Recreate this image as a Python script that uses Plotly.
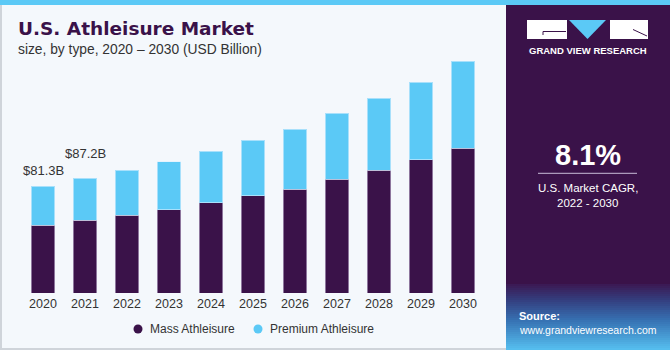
import plotly.graph_objects as go

# ---- data ----
years = ["2020", "2021", "2022", "2023", "2024", "2025", "2026", "2027", "2028", "2029", "2030"]
mass = [51.4, 55.3, 59.0, 63.3, 68.6, 73.9, 79.0, 86.4, 93.2, 101.1, 110.2]
premium = [29.9, 31.9, 34.2, 36.5, 39.3, 42.1, 45.6, 50.1, 55.0, 59.2, 65.9]
series_names = ["Mass Athleisure", "Premium Athleisure"]
total_labels = {"2020": "$81.3B", "2021": "$87.2B"}

W, H = 670, 350
DARK = "#3a1249"
LIGHT = "#5bc9f6"
BG = "#f4f8fc"
TXT = "#333333"


def px(x):
    return x / W


def py(y):
    return 1 - y / H


fig = go.Figure()
fig.add_trace(go.Bar(x=years, y=mass, name=series_names[0], marker=dict(color=DARK, line=dict(color="rgba(210,200,225,0.55)", width=1)), showlegend=False))
fig.add_trace(go.Bar(x=years, y=premium, name=series_names[1], marker=dict(color=LIGHT, line=dict(color="rgba(220,240,255,0.6)", width=1)), showlegend=False))

totals = [m + p for m, p in zip(mass, premium)]
annotations = []
shifts = {"2020": 6, "2021": 15}
for yr, lab in total_labels.items():
    i = years.index(yr)
    annotations.append(dict(x=i, y=totals[i], xref="x", yref="y", text=lab, showarrow=False,
                            yanchor="bottom", yshift=shifts[yr], font=dict(size=13, color=TXT, family="Liberation Sans")))

shapes = []
# border / top strip
shapes.append(dict(type="rect", xref="paper", yref="paper", x0=px(0), x1=px(2), y0=py(350), y1=py(0), fillcolor="#cfd4da", line_width=0, layer="below"))
shapes.append(dict(type="rect", xref="paper", yref="paper", x0=px(0), x1=px(506), y0=py(350), y1=py(348), fillcolor="#cfd4da", line_width=0, layer="below"))
shapes.append(dict(type="rect", xref="paper", yref="paper", x0=px(0), x1=px(670), y0=py(5), y1=py(0), fillcolor=LIGHT, line_width=0))
# right panel
shapes.append(dict(type="rect", xref="paper", yref="paper", x0=px(506), x1=px(670), y0=py(284), y1=py(5), fillcolor=DARK, line_width=0))
# gradient bottom part
stops = [(284, (59, 24, 82)), (300, (52, 62, 126)), (320, (54, 112, 178)), (350, (86, 192, 240))]


def col_at(y):
    for (y0, c0), (y1, c1) in zip(stops[:-1], stops[1:]):
        if y0 <= y <= y1:
            t = (y - y0) / (y1 - y0)
            return "rgb(%d,%d,%d)" % tuple(round(a + (b - a) * t) for a, b in zip(c0, c1))
    return "rgb(%d,%d,%d)" % stops[-1][1]


yy = 284
while yy < 350:
    shapes.append(dict(type="rect", xref="paper", yref="paper", x0=px(506), x1=px(670), y0=py(yy + 2.2), y1=py(yy),
                       fillcolor=col_at(yy + 1), line_width=0))
    yy += 2
# logo
shapes.append(dict(type="rect", xref="paper", yref="paper", x0=px(527), x1=px(567), y0=py(39), y1=py(20), fillcolor="white", line_width=0))
shapes.append(dict(type="rect", xref="paper", yref="paper", x0=px(610), x1=px(648), y0=py(39), y1=py(20), fillcolor="white", line_width=0))
shapes.append(dict(type="path", xref="paper", yref="paper",
                   path="M %f %f L %f %f L %f %f Z" % (px(569), py(20), px(606), py(20), px(587.5), py(39)),
                   fillcolor=LIGHT, line_width=0))
shapes.append(dict(type="line", xref="paper", yref="paper", x0=px(543), x1=px(566), y0=py(31.5), y1=py(31.5), line=dict(color=DARK, width=1)))
shapes.append(dict(type="line", xref="paper", yref="paper", x0=px(543), x1=px(543), y0=py(31.5), y1=py(35), line=dict(color=DARK, width=1)))
shapes.append(dict(type="line", xref="paper", yref="paper", x0=px(633), x1=px(647), y0=py(29.5), y1=py(36), line=dict(color=DARK, width=1)))
# CAGR divider
shapes.append(dict(type="line", xref="paper", yref="paper", x0=px(538), x1=px(637), y0=py(173.3), y1=py(173.3), line=dict(color="#c9bcd9", width=1)))
# legend circles
for cx, c in [(138, DARK), (258, LIGHT)]:
    shapes.append(dict(type="circle", xref="paper", yref="paper", x0=px(cx - 4.5), x1=px(cx + 4.5), y0=py(329 + 4.5), y1=py(329 - 4.5),
                       fillcolor=c, line_width=0))

def txt(x, y, s, size, color, bold=False, xanchor="left", family="Liberation Sans"):
    annotations.append(dict(x=px(x), y=py(y), xref="paper", yref="paper", text=("<b>%s</b>" % s) if bold else s,
                            showarrow=False, xanchor=xanchor, yanchor="middle",
                            font=dict(size=size, color=color, family=family)))

txt(16, 29, "U.S. Athleisure Market", 18.5, DARK, bold=True, family="DejaVu Sans")
txt(16, 50, "size, by type, 2020 – 2030 (USD Billion)", 13.8, TXT)
txt(148, 329, series_names[0], 12, TXT)
txt(268, 329, series_names[1], 12, TXT)
txt(587.5, 51, "GRAND VIEW RESEARCH", 9.5, "white", bold=True, xanchor="center")
txt(587.5, 155, "8.1%", 29, "white", bold=True, xanchor="center")
txt(587.5, 188, "U.S. Market CAGR,", 11.5, "white", xanchor="center")
txt(587.5, 202.5, "2022 - 2030", 11.5, "white", xanchor="center")
txt(517, 315.5, "Source:", 11, "white", bold=True)
txt(517, 330, "www.grandviewresearch.com", 10.5, "white")

fig.update_layout(
    width=W, height=H,
    margin=dict(l=0, r=0, t=0, b=0),
    paper_bgcolor=BG, plot_bgcolor=BG,
    barmode="stack", bargap=0.43,
    showlegend=False,
    shapes=shapes, annotations=annotations,
    xaxis=dict(domain=[px(22), px(484)], type="category", range=[-0.5, len(years) - 0.5], showgrid=False, showline=False, zeroline=False,
               ticks="", tickfont=dict(size=12.5, color=TXT, family="Liberation Sans"), ticklabelstandoff=1),
    yaxis=dict(domain=[py(293), py(50)], range=[0, 243 * 0.76], visible=False),
)

fig.write_html("out.html")
